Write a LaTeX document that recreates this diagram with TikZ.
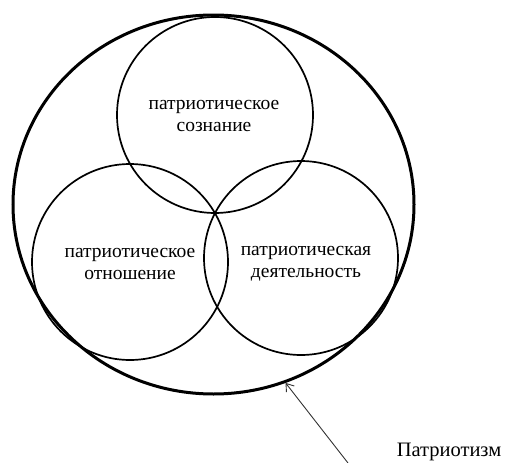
\documentclass[tikz,border=0pt]{standalone}
\usepackage{fontspec}
\setmainfont{Liberation Serif}
\usetikzlibrary{shapes.geometric,arrows.meta}
\begin{document}
\begin{tikzpicture}[x=1pt,y=-1pt,
  ring/.style={circle,draw,line width=1.7pt,inner sep=0pt},
  lbl/.style={align=center,font=\fontsize{19.5}{22}\selectfont,inner sep=0pt}]
\useasboundingbox (0,0) rectangle (509,463);
\node[ellipse,draw,line width=3pt,minimum width=401pt,minimum height=379pt,inner sep=0pt] (big) at (213.5,204.5) {};
\node[ring,minimum size=196pt] (top) at (215,115) {};
\node[ring,minimum size=196pt] (left) at (130,262) {};
\node[ring,minimum size=194pt] (right) at (301,258) {};
\node[lbl] (ttop) at (214,116) {патриотическое\\сознание};
\node[lbl] (tleft) at (130,264) {патриотическое\\отношение};
\node[lbl] (tright) at (306,264) {патриотическая\\деятельность};
\node[lbl,font=\fontsize{20.5}{24}\selectfont,anchor=base] (tpat) at (449,456) {Патриотизм};
\coordinate (tail) at (348,463);
\draw[line width=0.9pt,draw=black!80,-{Straight Barb[length=7pt,width=10pt]}] (tail) -- (big.-68);
\end{tikzpicture}
\end{document}
